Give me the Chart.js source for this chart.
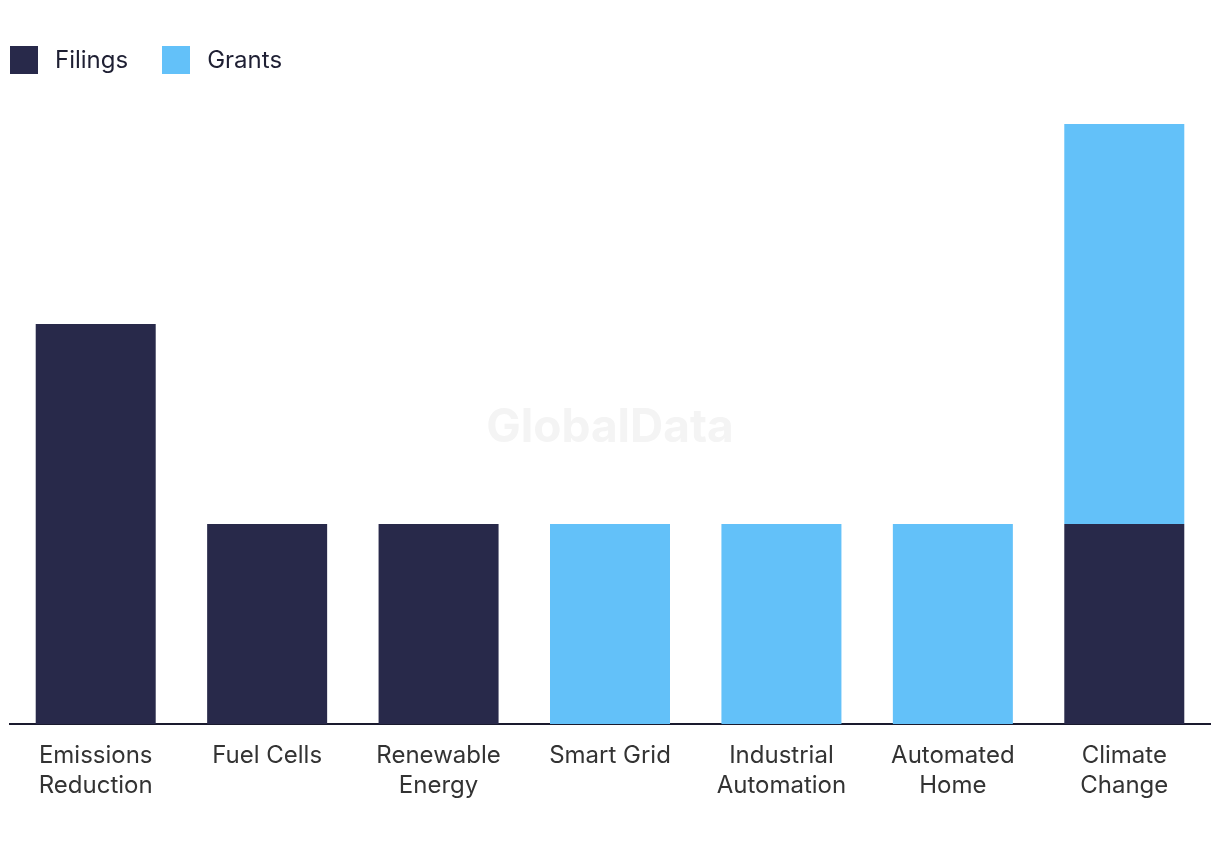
<!DOCTYPE html>
<html lang="en">
<head>
  <meta charset="UTF-8" />
  <title>Filings and Grants</title>
  <script src="https://cdn.jsdelivr.net/npm/chart.js"></script>
  <style>
    body {
      margin: 0;
      background: #ffffff;
      font-family: Inter, Roboto, sans-serif;
    }

    .wrap {
      position: relative;
      width: 1220px;
      height: 850px;
    }

    .legend {
      position: absolute;
      top: 45px;
      left: 10px;
      display: flex;
      align-items: center;
      font-size: 24px;
      color: #1e1f33;
    }

    .legend span.box {
      display: inline-block;
      width: 28px;
      height: 28px;
      margin-right: 17px;
    }

    .legend .item {
      display: flex;
      align-items: center;
      margin-right: 34px;
    }
  </style>
</head>
<body>

<div class="wrap">
  <canvas id="chart" width="1220" height="850"></canvas>
  <div class="legend" id="legend"></div>
</div>

<script>
  // data
  const categories = [['Emissions', 'Reduction'], 'Fuel Cells', ['Renewable', 'Energy'], 'Smart Grid',
    ['Industrial', 'Automation'], ['Automated', 'Home'], ['Climate', 'Change']];
  const filings = [2, 1, 1, 0, 0, 0, 1];
  const grants = [0, 0, 0, 1, 1, 1, 2];
  const seriesNames = ['Filings', 'Grants'];
  const seriesColors = ['#28294a', '#63c1f9'];

  // legend html
  const legendEl = document.getElementById('legend');
  seriesNames.forEach((name, i) => {
    legendEl.innerHTML += `<div class="item"><span class="box" style="background:${seriesColors[i]}"></span>${name}</div>`;
  });

  // watermark di tengah area chart
  const watermark = {
    id: 'watermark',
    beforeDatasetsDraw(chart) {
      const { ctx, chartArea } = chart;
      ctx.save();
      ctx.font = 'bold 46px Inter, Roboto, sans-serif';
      ctx.fillStyle = '#f4f4f4';
      ctx.textAlign = 'center';
      ctx.textBaseline = 'middle';
      ctx.fillText('GlobalData', (chartArea.left + chartArea.right) / 2, 428);
      ctx.restore();
    }
  };

  new Chart(document.getElementById('chart'), {
    type: 'bar',
    data: {
      labels: categories,
      datasets: [
        { label: seriesNames[0], data: filings, backgroundColor: seriesColors[0] },
        { label: seriesNames[1], data: grants, backgroundColor: seriesColors[1] }
      ]
    },
    options: {
      responsive: false,
      animation: false,
      layout: { padding: { left: 10, right: 10, top: 124, bottom: 40 } },
      datasets: { bar: { barPercentage: 0.7, categoryPercentage: 1 } },
      plugins: {
        legend: { display: false },
        tooltip: { enabled: false }
      },
      scales: {
        x: {
          stacked: true,
          grid: { display: false },
          border: { display: true, color: '#1a1a2e', width: 2 },
          ticks: {
            color: '#333333',
            padding: 9,
            maxRotation: 0,
            font: { family: 'Inter, Roboto, sans-serif', size: 24, lineHeight: 1.25 }
          }
        },
        y: {
          stacked: true,
          display: false,
          min: 0,
          max: 3
        }
      }
    },
    plugins: [watermark]
  });
</script>

</body>
</html>
